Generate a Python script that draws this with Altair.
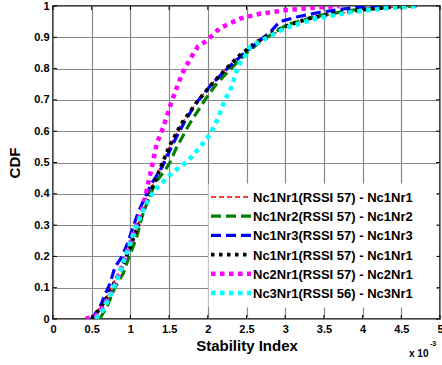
import altair as alt
import pandas as pd

# ---------------- data ----------------
labels = ["Nc1Nr1(RSSI 57) - Nc1Nr1", "Nc1Nr2(RSSI 57) - Nc1Nr2", "Nc1Nr3(RSSI 57) - Nc1Nr3",
          "Nc1Nr1(RSSI 57) - Nc1Nr1", "Nc2Nr1(RSSI 57) - Nc2Nr1", "Nc3Nr1(RSSI 56) - Nc3Nr1"]

red_x = [0.50, 0.60, 0.70, 0.80, 0.90, 1.00, 1.10, 1.20, 1.30, 1.40, 1.50, 1.65, 1.85, 2.05, 2.20, 2.40, 2.60, 2.80, 3.00, 3.30, 3.60, 4.00, 4.40, 4.70]
red_y = [0.00, 0.035, 0.075, 0.125, 0.175, 0.235, 0.305, 0.37, 0.435, 0.495, 0.55, 0.62, 0.69, 0.75, 0.79, 0.84, 0.875, 0.905, 0.93, 0.957, 0.973, 0.987, 0.996, 1.0]

green_x = [0.60, 0.70, 0.80, 0.91, 0.97, 1.08, 1.15, 1.23, 1.32, 1.45, 1.51, 1.60, 1.77, 1.99, 2.12, 2.30, 2.50, 2.70, 3.02, 3.45, 3.88, 4.40, 4.70]
green_y = [0.00, 0.04, 0.10, 0.147, 0.19, 0.26, 0.327, 0.38, 0.435, 0.476, 0.50, 0.55, 0.626, 0.71, 0.754, 0.80, 0.85, 0.89, 0.94, 0.97, 0.987, 0.997, 1.0]

blue_x = [0.50, 0.61, 0.67, 0.74, 0.80, 0.89, 0.96, 1.03, 1.10, 1.19, 1.28, 1.41, 1.55, 1.70, 1.85, 2.05, 2.25, 2.45, 2.65, 2.80, 2.93, 3.15, 3.45, 3.88, 4.30]
blue_y = [0.00, 0.04, 0.077, 0.115, 0.166, 0.198, 0.24, 0.29, 0.34, 0.39, 0.435, 0.486, 0.56, 0.63, 0.69, 0.75, 0.80, 0.845, 0.885, 0.915, 0.95, 0.965, 0.98, 0.995, 1.0]

black_x = [0.50, 0.60, 0.70, 0.80, 0.90, 1.00, 1.10, 1.20, 1.30, 1.40, 1.50, 1.65, 1.85, 2.05, 2.20, 2.40, 2.60, 2.80, 3.00, 3.30, 3.60, 4.00, 4.40, 4.70]
black_y = [0.00, 0.03, 0.07, 0.12, 0.17, 0.23, 0.30, 0.37, 0.43, 0.49, 0.55, 0.62, 0.69, 0.75, 0.79, 0.84, 0.88, 0.91, 0.935, 0.96, 0.975, 0.988, 0.997, 1.0]

magenta_x = [0.42, 0.55, 0.65, 0.75, 0.85, 0.95, 1.05, 1.15, 1.20, 1.29, 1.34, 1.42, 1.54, 1.67, 1.77, 1.87, 1.99, 2.16, 2.42, 2.67, 3.02, 3.45, 3.70]
magenta_y = [0.00, 0.01, 0.04, 0.08, 0.14, 0.21, 0.28, 0.35, 0.40, 0.50, 0.56, 0.61, 0.70, 0.785, 0.83, 0.87, 0.89, 0.93, 0.96, 0.975, 0.987, 0.996, 1.0]

cyan_x = [0.55, 0.65, 0.75, 0.85, 0.95, 1.05, 1.15, 1.25, 1.35, 1.47, 1.55, 1.67, 1.80, 1.90, 2.03, 2.13, 2.22, 2.29, 2.33, 2.38, 2.42, 2.48, 2.55, 2.70, 3.00, 3.40, 3.84, 4.30, 4.74]
cyan_y = [0.00, 0.03, 0.08, 0.14, 0.21, 0.28, 0.34, 0.39, 0.42, 0.45, 0.47, 0.49, 0.52, 0.55, 0.59, 0.64, 0.70, 0.73, 0.76, 0.80, 0.82, 0.84, 0.87, 0.89, 0.93, 0.96, 0.98, 0.993, 1.0]

x_ticks = [0, 0.5, 1, 1.5, 2, 2.5, 3, 3.5, 4, 4.5, 5]
y_ticks = [0, 0.1, 0.2, 0.3, 0.4, 0.5, 0.6, 0.7, 0.8, 0.9, 1]

# ---------------- styles ----------------
FONT = "Liberation Sans"
W, H = 387, 313
series = [
    (red_x, red_y, "#ff0000", 1.3, [5, 3]),
    (green_x, green_y, "#008000", 3.2, [10, 5]),
    (blue_x, blue_y, "#0000ff", 3.2, [10, 5]),
    (black_x, black_y, "#000000", 3.8, [3.5, 4.5]),
    (magenta_x, magenta_y, "#ff00ff", 4.5, [4.5, 4.5]),
    (cyan_x, cyan_y, "#00ffff", 4.5, [4.5, 4.5]),
]

xs = alt.Scale(domain=[0, 5], nice=False)
ys = alt.Scale(domain=[0, 1], nice=False)

common_axis = dict(format="~g", grid=True, gridColor="#888888", gridWidth=1.2, gridOpacity=1,
                   domain=False, ticks=False, labelFont=FONT, labelFontWeight="bold",
                   labelFontSize=11, labelColor="black", labelPadding=4, labelFlush=False,
                   labelOverlap=False, titleFont=FONT, titleFontWeight="bold", titleFontSize=15,
                   titleColor="black")
x_axis = alt.Axis(values=x_ticks, title="Stability Index", titlePadding=4, **common_axis)
y_axis = alt.Axis(values=y_ticks, title="CDF", titlePadding=11, **common_axis)


def X():
    return alt.X("x:Q", scale=xs, axis=x_axis)


def Y():
    return alt.Y("y:Q", scale=ys, axis=y_axis)


layers = []

# inward ticks on all four sides
xt = pd.DataFrame({"x": x_ticks})
yt = pd.DataFrame({"y": y_ticks})
tick_col = "black"
layers.append(alt.Chart(xt).mark_rule(color=tick_col, strokeWidth=1).encode(
    x=X(), y=alt.value(H), y2=alt.value(H - 4)))
layers.append(alt.Chart(xt).mark_rule(color=tick_col, strokeWidth=1).encode(
    x=X(), y=alt.value(0), y2=alt.value(4)))
layers.append(alt.Chart(yt).mark_rule(color=tick_col, strokeWidth=1).encode(
    y=Y(), x=alt.value(0), x2=alt.value(4)))
layers.append(alt.Chart(yt).mark_rule(color=tick_col, strokeWidth=1).encode(
    y=Y(), x=alt.value(W), x2=alt.value(W - 4)))

# curves
for i, (sx, sy, col, sw, dash) in enumerate(series):
    df = pd.DataFrame({"x": sx, "y": sy, "o": list(range(len(sx)))})
    layers.append(alt.Chart(df).mark_line(color=col, strokeWidth=sw, strokeDash=dash,
                                          strokeCap="butt", clip=True).encode(
        x=X(), y=Y(), order="o:Q"))

# legend (manual, inside plot)
LX0, LX1, LY0, LY1 = 156, 383, 178, 301
ROW0, ROWSTEP = 191, 19.2
one = pd.DataFrame({"a": [0]})
layers.append(alt.Chart(one).mark_rect(fill="white", stroke="white").encode(
    x=alt.value(LX0), x2=alt.value(LX1), y=alt.value(LY0), y2=alt.value(LY1)))
for i, (sx, sy, col, sw, dash) in enumerate(series):
    ry = ROW0 + i * ROWSTEP
    layers.append(alt.Chart(one).mark_rule(color=col, strokeWidth=sw, strokeDash=dash,
                                           strokeCap="butt").encode(
        x=alt.value(158), x2=alt.value(198), y=alt.value(ry)))
    ldf = pd.DataFrame({"t": [labels[i]]})
    layers.append(alt.Chart(ldf).mark_text(font=FONT, fontWeight="bold", fontSize=13, align="left",
                                           baseline="middle", color="black").encode(
        text="t:N", x=alt.value(200), y=alt.value(ry + 1)))

# exponent note "x 10^-3"
layers.append(alt.Chart(pd.DataFrame({"t": ["x 10"]})).mark_text(
    font=FONT, fontWeight="bold", fontSize=10, align="left", baseline="alphabetic", color="black").encode(
    text="t:N", x=alt.value(356), y=alt.value(351)))
layers.append(alt.Chart(pd.DataFrame({"t": ["-3"]})).mark_text(
    font=FONT, fontWeight="bold", fontSize=7, align="left", baseline="alphabetic", color="black").encode(
    text="t:N", x=alt.value(377), y=alt.value(340)))

chart = alt.layer(*layers).properties(
    width=W, height=H,
    autosize=alt.AutoSizeParams(type="none"),
    padding={"left": 53, "top": 6, "right": 2, "bottom": 46},
    background="white",
).configure_view(stroke="black", strokeWidth=1.5)

chart.save("out.html", embed_options={"renderer": "svg", "actions": False})
